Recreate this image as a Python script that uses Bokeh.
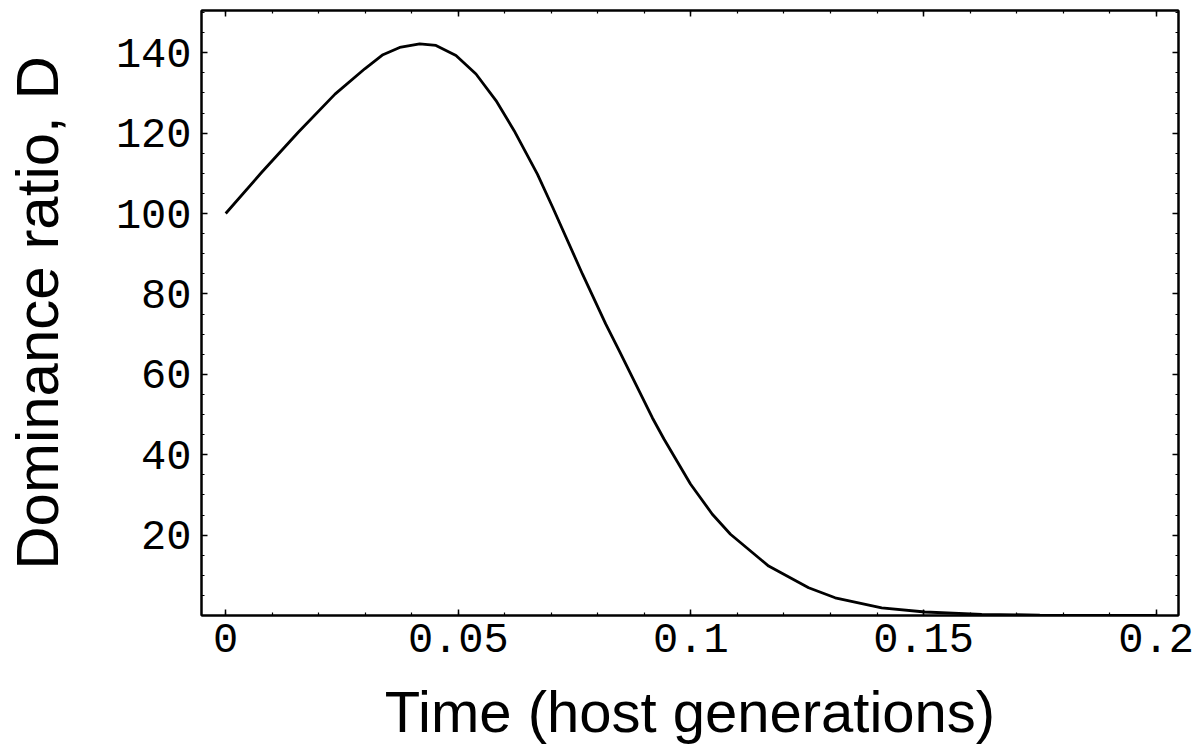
from bokeh.plotting import figure
from bokeh.models import Range1d, FixedTicker, LinearAxis, CustomLabelingPolicy
from bokeh.embed import file_html
from bokeh.resources import INLINE

# Data
time = [0.0, 0.0077, 0.0156, 0.0235, 0.0299, 0.0338, 0.0374, 0.0417, 0.0452, 0.0495,
        0.0538, 0.0581, 0.0620, 0.0670, 0.0703, 0.0767, 0.0817, 0.0846, 0.0917, 0.0942,
        0.0999, 0.1046, 0.1085, 0.1167, 0.1253, 0.1310, 0.1410, 0.1503, 0.1625, 0.175,
        0.19, 0.2]
dominance = [100.0, 110.2, 120.2, 129.7, 136.0, 139.5, 141.3, 142.2, 141.8, 139.3,
             134.7, 128.1, 120.6, 109.8, 101.5, 84.9, 72.5, 65.8, 49.2, 43.9,
             32.7, 25.2, 20.2, 12.3, 6.9, 4.4, 1.9, 0.87, 0.3, 0.1,
             0.03, 0.01]

x_ticks = [0.0, 0.05, 0.1, 0.15, 0.2]
x_tick_labels = ["0", "0.05", "0.1", "0.15", "0.2"]
x_minor = [round(i * 0.01, 2) for i in range(0, 21)]
y_ticks = [20, 40, 60, 80, 100, 120, 140]
y_minor = list(range(5, 151, 5))

p = figure(width=1200, height=755, output_backend="svg", toolbar_location=None,
           x_range=Range1d(-0.0052, 0.2048), y_range=Range1d(0, 150.5),
           min_border_left=198, min_border_right=22, min_border_top=10, min_border_bottom=140,
           x_axis_label="Time (host generations)", y_axis_label="Dominance ratio, D")
p.grid.visible = False
p.background_fill_color = "white"
p.border_fill_color = "white"
p.outline_line_color = "black"
p.outline_line_width = 2

p.line(time, dominance, line_color="black", line_width=2.8)

def style(ax, labels=True):
    ax.axis_line_color = "black"
    ax.axis_line_width = 2
    ax.major_tick_in = 6
    ax.major_tick_out = 0
    ax.minor_tick_in = 3
    ax.minor_tick_out = 0
    ax.major_tick_line_color = "black"
    ax.minor_tick_line_color = "black"
    ax.major_tick_line_width = 1.5
    ax.minor_tick_line_width = 1.2
    ax.major_label_text_font = "Liberation Mono"
    ax.major_label_text_font_size = "42px" if labels else "1px"
    ax.major_label_text_color = "black"
    ax.axis_label_text_font = "Liberation Sans"
    ax.axis_label_text_font_style = "normal"
    ax.axis_label_text_font_size = "59px"
    ax.axis_label_text_color = "black"

xa = p.xaxis[0]
xa.ticker = FixedTicker(ticks=x_ticks, minor_ticks=x_minor)
xa.major_label_overrides = {t: l for t, l in zip(x_ticks, x_tick_labels)}
style(xa)
xa.axis_label_text_font_size = "58px"
xa.major_label_standoff = 8
xa.axis_label_standoff = 24

ya = p.yaxis[0]
ya.ticker = FixedTicker(ticks=y_ticks, minor_ticks=y_minor)
style(ya)
ya.axis_label_text_font_size = "60px"
ya.major_label_standoff = 10
ya.axis_label_standoff = 42

top = LinearAxis(ticker=FixedTicker(ticks=x_ticks, minor_ticks=x_minor))
style(top, labels=False)
top.major_label_standoff = 0
top.major_label_policy = CustomLabelingPolicy(code="""
for (const i of indices) { indices.unset(i) }
return indices
""")
p.add_layout(top, "above")

right = LinearAxis(ticker=FixedTicker(ticks=y_ticks, minor_ticks=y_minor))
style(right, labels=False)
right.major_label_standoff = 0
right.major_label_policy = CustomLabelingPolicy(code="""
for (const i of indices) { indices.unset(i) }
return indices
""")
p.add_layout(right, "right")

open("out.html", "w").write(file_html(p, INLINE))
